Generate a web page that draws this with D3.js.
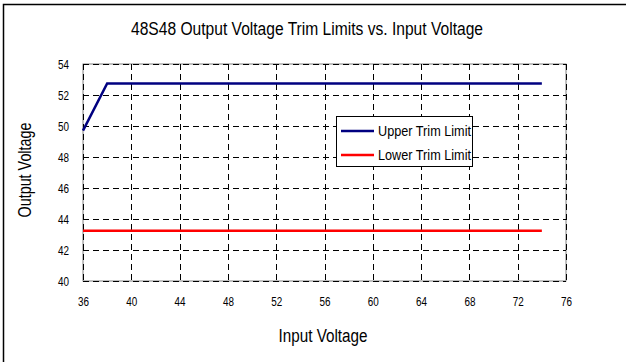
<!DOCTYPE html>
<html>
<head>
<meta charset="utf-8">
<script src="https://cdn.jsdelivr.net/npm/d3@7"></script>
<style>
  html, body { margin: 0; padding: 0; background: #fff; }
  svg { display: block; font-family: "Liberation Sans Narrow", "Arial Narrow", "Liberation Sans", Arial, sans-serif; }
</style>
</head>
<body>
<svg id="chart" width="626" height="362"></svg>
<script>
// Input voltage sample points and trim limits
const inputVoltage = [36, 38, 74];
const upperTrim = [49.7, 52.75, 52.75];
const lowerTrim = [43.25, 43.25, 43.25];
const xTicks = [36, 40, 44, 48, 52, 56, 60, 64, 68, 72, 76];
const yTicks = [40, 42, 44, 46, 48, 50, 52, 54];
const seriesNames = ["Upper Trim Limit", "Lower Trim Limit"];
const seriesColors = ["#000080", "#ff0000"];

const svg = d3.select("#chart");
const W = 626, H = 362;
const plot = { left: 83, right: 566, top: 64, bottom: 281 };

// Condensed text helper: fixes the rendered width of a label
function condensed(sel, width) {
  return sel.attr("textLength", width).attr("lengthAdjust", "spacingAndGlyphs");
}

// Outer frame
svg.append("rect")
  .attr("x", 3.5).attr("y", 4.5)
  .attr("width", W + 10).attr("height", H + 10)
  .attr("fill", "#fff").attr("stroke", "#000").attr("stroke-width", 1.5);

const x = d3.scaleLinear().domain([36, 76]).range([plot.left, plot.right]);
const y = d3.scaleLinear().domain([40, 54]).range([plot.bottom, plot.top]);

// Plot frame
svg.append("rect")
  .attr("x", plot.left).attr("y", plot.top)
  .attr("width", plot.right - plot.left).attr("height", plot.bottom - plot.top)
  .attr("fill", "#fff").attr("stroke", "#808080").attr("stroke-width", 1);

// Dashed grid
const grid = svg.append("g").attr("stroke", "#000").attr("stroke-width", 1)
  .attr("stroke-dasharray", "6,4");
grid.selectAll("line.v").data(xTicks).join("line")
  .attr("class", "v")
  .attr("x1", d => Math.round(x(d)) + 0.5).attr("x2", d => Math.round(x(d)) + 0.5)
  .attr("y1", plot.top).attr("y2", plot.bottom);
grid.selectAll("line.h").data(yTicks).join("line")
  .attr("class", "h")
  .attr("y1", d => Math.round(y(d)) + 0.5).attr("y2", d => Math.round(y(d)) + 0.5)
  .attr("x1", plot.left).attr("x2", plot.right);

// Axes (labels only)
const xAxis = svg.append("g")
  .attr("transform", `translate(0,${plot.bottom})`)
  .call(d3.axisBottom(x).tickValues(xTicks).tickSize(0).tickPadding(16));
const yAxis = svg.append("g")
  .attr("transform", `translate(${plot.left},0)`)
  .call(d3.axisLeft(y).tickValues(yTicks).tickSize(0).tickPadding(14));
[xAxis, yAxis].forEach(a => {
  a.select(".domain").remove();
  condensed(a.selectAll("text"), 11)
    .attr("font-size", 12.5).attr("fill", "#000")
    .attr("font-family", "\"Liberation Sans Narrow\", \"Arial Narrow\", \"Liberation Sans\", sans-serif");
});

// Series lines
const pts = [upperTrim, lowerTrim].map(vals => inputVoltage.map((v, i) => [v, vals[i]]));
const line = d3.line().x(d => x(d[0])).y(d => y(d[1]));
svg.selectAll("path.series").data(pts).join("path")
  .attr("class", "series")
  .attr("d", line)
  .attr("fill", "none")
  .attr("stroke", (d, i) => seriesColors[i])
  .attr("stroke-width", 2.5);

// Legend
const legend = svg.append("g").attr("transform", "translate(336,116)");
legend.append("rect").attr("x", 0.5).attr("y", 0.5).attr("width", 136).attr("height", 50)
  .attr("fill", "#fff").attr("stroke", "#000").attr("stroke-width", 1);
seriesNames.forEach((name, i) => {
  const ly = 15 + i * 24;
  legend.append("line").attr("x1", 5).attr("x2", 38).attr("y1", ly).attr("y2", ly)
    .attr("stroke", seriesColors[i]).attr("stroke-width", 2.5);
  condensed(legend.append("text"), 93)
    .attr("x", 42).attr("y", ly).attr("dy", "0.36em")
    .attr("font-size", 15).text(name);
});

// Titles
condensed(svg.append("text"), 352)
  .attr("x", 307).attr("y", 35).attr("text-anchor", "middle")
  .attr("font-size", 17.5)
  .text("48S48 Output Voltage Trim Limits vs. Input Voltage");
condensed(svg.append("text"), 89)
  .attr("x", 323).attr("y", 342).attr("text-anchor", "middle")
  .attr("font-size", 18)
  .text("Input Voltage");
condensed(svg.append("text"), 95)
  .attr("transform", "translate(31,170) rotate(-90)")
  .attr("text-anchor", "middle").attr("font-size", 18)
  .text("Output Voltage");
</script>
</body>
</html>
